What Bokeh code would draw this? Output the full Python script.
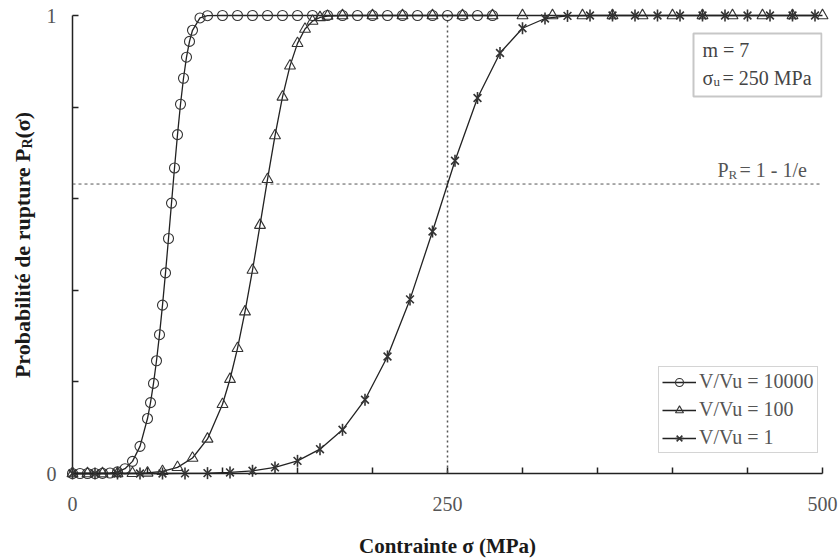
import math
from bokeh.plotting import figure
from bokeh.models import Range1d, FixedTicker, Span, BoxAnnotation, Legend, LegendItem
from bokeh.core.properties import value
from bokeh.embed import file_html
from bokeh.resources import INLINE

# ---------------- data ----------------
sigma_10000 = [0, 5, 10, 15, 20, 25, 30, 35, 40, 45,
               50, 52, 54, 56, 58, 60, 62, 64, 66, 68, 70, 72, 74, 76, 78, 80,
               85, 90, 100, 110, 120, 130, 140, 150, 160, 170, 180, 190, 200,
               210, 220, 230, 240, 250, 260, 270, 280]
pr_10000 = [0, 0, 0, 0, 0.0002, 0.001, 0.0036, 0.0105, 0.0265, 0.0593,
            0.12, 0.1548, 0.1967, 0.2461, 0.3031, 0.3676, 0.438, 0.5131, 0.5904, 0.6671,
            0.74, 0.8062, 0.863, 0.909, 0.9435, 0.9677,
            0.9947, 0.9996, 1, 1, 1, 1, 1, 1, 1, 1, 1, 1, 1,
            1, 1, 1, 1, 1, 1, 1, 1]

sigma_100 = [0, 10, 20, 30, 40, 50, 60, 70, 80, 90, 100,
             105, 110, 115, 120, 125, 130, 135, 140, 145, 150, 155, 160, 165, 170,
             180, 200, 220, 240, 260, 280, 300, 320, 340, 360, 380, 400, 420, 440, 460, 480, 500]
pr_100 = [0, 0, 0, 0, 0.0003, 0.0013, 0.0046, 0.0134, 0.0338, 0.0754, 0.1511,
          0.2058, 0.2733, 0.3532, 0.444, 0.5421, 0.6423, 0.7378, 0.8222, 0.8901, 0.9391,
          0.9704, 0.9877, 0.9957, 0.9988,
          1, 1, 1, 1, 1, 1, 1, 1, 1, 1, 1, 1, 1, 1, 1, 1, 1]

sigma_1 = [0, 15, 30, 45, 60, 75, 90, 105, 120, 135, 150, 165, 180, 195, 210, 225,
           240, 255, 270, 285, 300, 315, 330, 345, 360, 375, 390, 405, 420, 435,
           450, 465, 480, 495]
pr_1 = [0, 0, 0, 0, 0, 0.0002, 0.0008, 0.0023, 0.0059, 0.0133, 0.0276, 0.0531,
        0.0954, 0.1611, 0.2555, 0.3801, 0.5283, 0.6829, 0.8198, 0.9181, 0.9722,
        0.9935, 0.9991, 1, 1, 1, 1, 1, 1, 1, 1, 1, 1, 1]

series_labels = ["V/Vu = 10000", "V/Vu = 100", "V/Vu = 1"]
x_tick_labels = [0, 250, 500]
x_minor = [50, 100, 150, 200, 300, 350, 400, 450]
y_tick_labels = [0, 1]
y_minor = [0.2, 0.4, 0.6, 0.8]
pr_level = 0.632     # P_R = 1 - 1/e
sigma_u = 250

FONT = "Liberation Serif"

p = figure(width=838, height=559, output_backend="svg", toolbar_location=None,
           x_range=Range1d(0, 500), y_range=Range1d(0, 1),
           min_border_left=72, min_border_right=16, min_border_top=15, min_border_bottom=86)
p.outline_line_color = None
p.xgrid.visible = False
p.ygrid.visible = False
p.background_fill_color = "white"
p.border_fill_color = "white"


def X(px):
    return (px - 72) / 1.5


def Y(py):
    return (473 - py) / 458


for ax in (p.xaxis[0], p.yaxis[0]):
    ax.axis_line_color = "#222222"
    ax.axis_line_width = 1.5
    ax.major_tick_line_color = "#222222"
    ax.minor_tick_line_color = "#222222"
    ax.major_tick_line_width = 1.5
    ax.minor_tick_line_width = 1.5
    ax.major_tick_in = 6
    ax.major_tick_out = 0
    ax.minor_tick_in = 6
    ax.minor_tick_out = 0
    ax.major_label_text_font = FONT
    ax.major_label_text_font_size = "20px"
    ax.major_label_text_color = "#555555"

p.xaxis[0].ticker = FixedTicker(ticks=x_tick_labels, minor_ticks=x_minor)
p.yaxis[0].ticker = FixedTicker(ticks=y_tick_labels, minor_ticks=y_minor)
p.xaxis[0].major_label_standoff = 23
p.yaxis[0].major_label_standoff = 16

# reference lines
p.add_layout(Span(location=pr_level, dimension="width", line_color="#555555",
                  line_width=1, line_dash="3 3"))
p.add_layout(Span(location=sigma_u, dimension="height", line_color="#555555",
                  line_width=1.5, line_dash="2 3"))

LC = "#222222"
MC = "#333333"

l1 = p.line(sigma_10000, pr_10000, line_color=LC, line_width=1.3)
m1 = p.scatter(sigma_10000, pr_10000, marker="circle", size=10, fill_color=None,
               line_color=MC, line_width=1.1)
l2 = p.line(sigma_100, pr_100, line_color=LC, line_width=1.3)
m2 = p.scatter(sigma_100, pr_100, marker="triangle", size=11, fill_color=None,
               line_color=MC, line_width=1.1)
l3 = p.line(sigma_1, pr_1, line_color=LC, line_width=1.3)
m3a = p.scatter(sigma_1, pr_1, marker="x", size=11, line_color=MC, line_width=1.6)
m3b = p.scatter(sigma_1, pr_1, marker="dash", size=12, angle=math.pi / 2,
                line_color=MC, line_width=1.6)

for r in (l1, m1, l2, m2, l3, m3a, m3b):
    r.level = "overlay"

legend = Legend(items=[
    LegendItem(label=series_labels[0], renderers=[l1, m1]),
    LegendItem(label=series_labels[1], renderers=[l2, m2]),
    LegendItem(label=series_labels[2], renderers=[l3, m3a, m3b]),
], location=(586, 20))
legend.label_text_font = FONT
legend.label_text_font_size = "20px"
legend.label_text_color = "#555555"
legend.glyph_width = 34
legend.glyph_height = 20
legend.label_height = 20
legend.spacing = 5
legend.padding = 3
legend.margin = 0
legend.label_standoff = 3
legend.border_line_color = "#aaaaaa"
legend.border_line_width = 1
legend.background_fill_color = "white"
legend.background_fill_alpha = 1
p.add_layout(legend)

# parameter box
p.add_layout(BoxAnnotation(left=X(693), right=X(821), top=Y(33), bottom=Y(96),
                           fill_color="white", fill_alpha=1, line_color="#444444",
                           line_width=2, level="annotation"))


def lab(txt, px, py, size="20px", color="#444444", bold=False, align="left",
        baseline="alphabetic", angle=0.0):
    r = p.text(x=[X(px)], y=[Y(py)], text=[txt], text_font=value(FONT),
               text_font_size=value(size), text_color=color,
               text_font_style="bold" if bold else "normal",
               text_align=align, text_baseline=baseline, angle=angle)
    r.level = "overlay"


lab("m = 7", 702, 49)
lab("σ", 702, 77)
lab("u", 713, 81, size="13px")
lab("= 250 MPa", 722, 77)

lab("P", 717, 169, color="#555555")
lab("R", 728, 174, size="13px", color="#555555")
lab("= 1 - 1/e", 739, 169, color="#555555")

# axis titles
lab("Contrainte σ (MPa)", 447, 545, size="21px", color="#1a1a1a", bold=True, align="center")

yb = 148
lab("Probabilité de rupture P", 22, yb, size="22px", color="#1a1a1a", bold=True,
    align="right", baseline="middle", angle=math.pi / 2)
lab("R", 27, yb, size="14px", color="#1a1a1a", bold=True,
    align="left", baseline="middle", angle=math.pi / 2)
lab("(σ)", 22, yb - 10, size="22px", color="#1a1a1a", bold=True,
    align="left", baseline="middle", angle=math.pi / 2)

open("out.html", "w").write(file_html(p, INLINE))
